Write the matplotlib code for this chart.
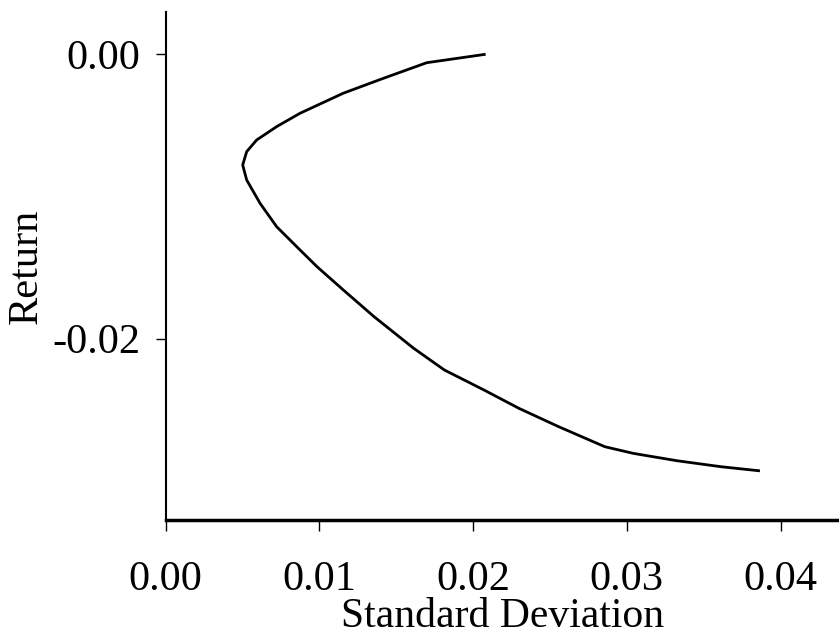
import matplotlib
matplotlib.use("Agg")
import matplotlib.pyplot as plt

# efficient frontier
std_dev = [0.02073, 0.01699, 0.01417, 0.01156, 0.00875, 0.00723, 0.00593, 0.00528,
           0.00502, 0.00528, 0.00615, 0.00723, 0.00864, 0.00985, 0.01156, 0.01356,
           0.01614, 0.01814, 0.02072, 0.02299, 0.02557, 0.02857, 0.03043, 0.03328,
           0.03614, 0.03857]
ret = [0.0, -0.00058, -0.00168, -0.00273, -0.00414, -0.00508, -0.00602, -0.00684,
       -0.00778, -0.00884, -0.01048, -0.01213, -0.01365, -0.01494, -0.01658, -0.01846,
       -0.02069, -0.02222, -0.02363, -0.02492, -0.02621, -0.02762, -0.02809, -0.02861,
       -0.02903, -0.02931]
x_ticks = [0.00, 0.01, 0.02, 0.03, 0.04]
y_ticks = [0.00, -0.02]

plt.rcParams['font.family'] = ['Liberation Serif', 'DejaVu Serif']

fig = plt.figure(figsize=(8.39, 6.39), dpi=100)
ax = fig.add_axes([165.5 / 839, 119 / 639, 1 - 165.5 / 839, 508 / 639])
ax.plot(std_dev, ret, color='black', lw=2)

ax.set_xlim(0, 0.0438)
ax.set_ylim(-0.03278, 0.00299)
for s in ('top', 'right'):
    ax.spines[s].set_visible(False)
ax.spines['left'].set_linewidth(1.5)
ax.spines['bottom'].set_linewidth(2.5)

ax.set_xticks(x_ticks)
ax.set_xticklabels(['%.2f' % v for v in x_ticks])
ax.set_yticks(y_ticks)
ax.set_yticklabels(['%.2f' % v for v in y_ticks])
ax.tick_params(axis='x', length=8, width=1, pad=21, labelsize=30.5)
ax.tick_params(axis='y', length=7, width=1, pad=11, labelsize=30.5)

ax.set_xlabel('Standard Deviation', fontsize=30, labelpad=-1)
ax.set_ylabel('Return', fontsize=30.5, labelpad=5)

fig.savefig('out.png', dpi=100)
